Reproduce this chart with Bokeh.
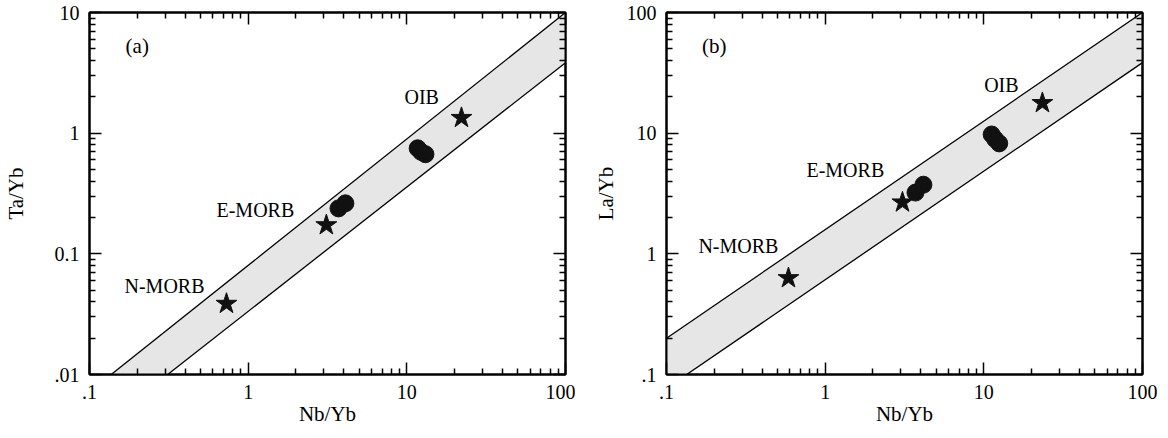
from bokeh.plotting import figure
from bokeh.layouts import row
from bokeh.models import (LogAxis, FixedTicker, CustomJSTickFormatter, ColumnDataSource,
                          Range1d)
from bokeh.embed import file_html
from bokeh.resources import INLINE

FONT = "Liberation Serif"

# ---------------- data ----------------
# panel (a): Ta/Yb vs Nb/Yb
a_band_upper_x = [0.137, 100]
a_band_upper_y = [0.01, 10]
a_band_lower_x = [0.311, 100]
a_band_lower_y = [0.01, 3.84]
a_star_names = ["N-MORB", "E-MORB", "OIB"]
a_star_x = [0.73, 3.11, 22.1]
a_star_y = [0.0386, 0.173, 1.34]
a_sample_x = [3.71, 4.10, 11.7, 13.1, 12.3]
a_sample_y = [0.238, 0.262, 0.749, 0.669, 0.70]
a_label_x = [0.297, 1.11, 12.4]
a_label_y = [0.054, 0.23, 1.99]

# panel (b): La/Yb vs Nb/Yb
b_band_upper_x = [0.1, 100]
b_band_upper_y = [0.2, 100]
b_band_lower_x = [0.134, 100]
b_band_lower_y = [0.1, 38.4]
b_star_names = ["N-MORB", "E-MORB", "OIB"]
b_star_x = [0.587, 3.07, 23.4]
b_star_y = [0.63, 2.67, 17.8]
b_sample_x = [3.71, 4.16, 11.2, 12.5, 11.8]
b_sample_y = [3.22, 3.74, 9.75, 8.23, 8.9]
b_label_x = [0.284, 1.34, 12.9]
b_label_y = [1.17, 4.96, 24.9]

x_ticks = [0.1, 1, 10, 100]
x_tick_labels = [".1", "1", "10", "100"]
a_y_ticks = [0.01, 0.1, 1, 10]
a_y_tick_labels = [".01", "0.1", "1", "10"]
b_y_ticks = [0.1, 1, 10, 100]
b_y_tick_labels = [".1", "1", "10", "100"]


def minor_for(ticks):
    out = []
    for t in ticks[:-1]:
        out += [t * m for m in range(2, 10)]
    return out


def fmt(vals, labs):
    return CustomJSTickFormatter(args=dict(vals=vals, labs=labs), code="""
        for (let i = 0; i < vals.length; i++) {
            if (Math.abs(Math.log10(tick) - Math.log10(vals[i])) < 1e-6) return labs[i];
        }
        return '';
    """)


def blank():
    return CustomJSTickFormatter(code="return '';")


def style_axis(ax, ticks):
    ax.ticker = FixedTicker(ticks=ticks, minor_ticks=minor_for(ticks))
    ax.axis_line_width = 2
    ax.axis_line_color = "black"
    ax.major_tick_in = 12
    ax.major_tick_out = 0
    ax.minor_tick_in = 6
    ax.minor_tick_out = 0
    ax.major_tick_line_width = 1.5
    ax.minor_tick_line_width = 1.5
    ax.major_tick_line_color = "black"
    ax.minor_tick_line_color = "black"
    ax.major_label_text_font = FONT
    ax.major_label_text_font_size = "20px"
    ax.major_label_text_color = "black"
    ax.axis_label_text_font = FONT
    ax.axis_label_text_font_size = "21px"
    ax.axis_label_text_font_style = "normal"
    ax.axis_label_text_color = "black"


def make_panel(tag, y_range, y_ticks, y_tick_labels, ylabel,
               up_x, up_y, lo_x, lo_y, sx, sy, cx, cy, lx, ly, names,
               border_left, border_right, ylabel_standoff):
    p = figure(x_axis_type="log", y_axis_type="log",
               x_range=Range1d(x_ticks[0], x_ticks[-1]),
               y_range=Range1d(*y_range),
               frame_width=476, frame_height=362,
               min_border_left=border_left, min_border_right=border_right,
               min_border_top=12, min_border_bottom=48,
               output_backend="svg", toolbar_location=None)
    p.grid.visible = False
    p.outline_line_color = "black"
    p.outline_line_width = 2
    p.background_fill_color = "white"
    p.border_fill_color = "white"

    # band polygon (upper line forward, lower line backward; close along frame edges)
    xs = list(up_x) + list(reversed(lo_x))
    ys = list(up_y) + list(reversed(lo_y))
    if up_x[0] <= x_ticks[0] and lo_x[0] > x_ticks[0]:
        xs = xs + [x_ticks[0]]
        ys = ys + [y_range[0]]
    p.patch(xs, ys, fill_color="#e6e6e6", line_color=None)
    p.line(up_x, up_y, line_color="black", line_width=1.3)
    p.line(lo_x, lo_y, line_color="black", line_width=1.3)

    p.scatter(cx, cy, marker="circle", size=17, fill_color="#111111", line_color="#111111")
    p.scatter(sx, sy, marker="star", size=22, fill_color="#111111", line_color="#111111")

    src = ColumnDataSource(dict(x=lx, y=ly, t=names))
    p.text(x="x", y="y", text="t", source=src, text_font={"value": FONT},
           text_font_size="20px", text_align="center", text_baseline="middle",
           text_color="black")

    # panel tag
    tag_x = [0.2]
    tag_y = [y_range[0] * 10 ** 2.722]
    p.text(x=tag_x, y=tag_y, text=[tag], text_font={"value": FONT},
           text_font_size="21px", text_align="center", text_baseline="middle",
           text_color="black")

    xa = p.xaxis[0]
    ya = p.yaxis[0]
    style_axis(xa, x_ticks)
    style_axis(ya, y_ticks)
    xa.formatter = fmt(x_ticks, x_tick_labels)
    ya.formatter = fmt(y_ticks, y_tick_labels)
    xa.axis_label = "Nb/Yb"
    ya.axis_label = ylabel
    xa.major_label_standoff = 10
    ya.major_label_standoff = 10
    xa.axis_label_standoff = 0
    ya.axis_label_standoff = ylabel_standoff

    top = LogAxis()
    style_axis(top, x_ticks)
    top.formatter = blank()
    top.major_label_standoff = 0
    p.add_layout(top, "above")
    right = LogAxis()
    style_axis(right, y_ticks)
    right.formatter = blank()
    right.major_label_standoff = 0
    p.add_layout(right, "right")
    return p


p1 = make_panel("(a)", (a_y_ticks[0], a_y_ticks[-1]), a_y_ticks, a_y_tick_labels, "Ta/Yb",
                a_band_upper_x, a_band_upper_y, a_band_lower_x, a_band_lower_y,
                a_star_x, a_star_y, a_sample_x, a_sample_y, a_label_x, a_label_y,
                a_star_names, 82, 10, 24)
p2 = make_panel("(b)", (b_y_ticks[0], b_y_ticks[-1]), b_y_ticks, b_y_tick_labels, "La/Yb",
                b_band_upper_x, b_band_upper_y, b_band_lower_x, b_band_lower_y,
                b_star_x, b_star_y, b_sample_x, b_sample_y, b_label_x, b_label_y,
                b_star_names, 91, 15, 6)

layout = row(p1, p2, spacing=0)
open("out.html", "w").write(file_html(layout, INLINE))
